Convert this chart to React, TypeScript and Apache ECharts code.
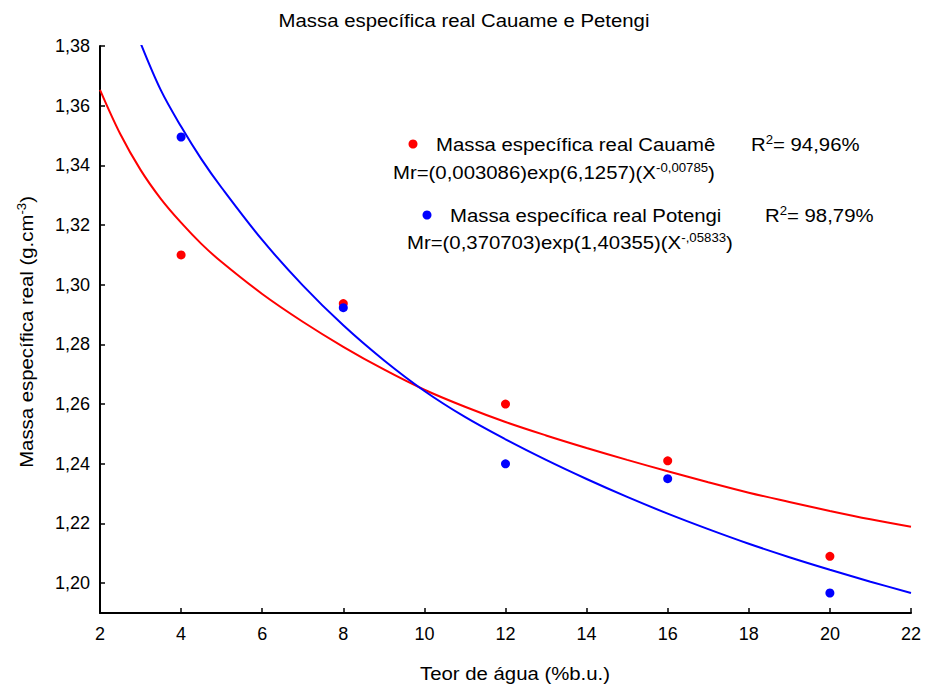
import React, { useEffect, useRef } from "react";
import * as echarts from "echarts";

// ---- data ----
const xTicks = [2, 4, 6, 8, 10, 12, 14, 16, 18, 20, 22];
const yTicks = [1.2, 1.22, 1.24, 1.26, 1.28, 1.3, 1.32, 1.34, 1.36, 1.38];

const pointX = [4, 8, 12, 16, 20];
const cauamePoints = [1.31, 1.2937, 1.26, 1.241, 1.209];
const potengiPoints = [1.3495, 1.2923, 1.24, 1.235, 1.1967];

const cauameCurveX = [2, 2.5, 3, 3.5, 4, 4.5, 5, 6, 7, 8, 9, 10, 11, 12, 13, 14, 15, 16, 17, 18, 19, 20, 21, 22];
const cauameCurve = [
  1.3653, 1.3505, 1.3385, 1.3288, 1.3208, 1.3137, 1.3076, 1.2969, 1.2876, 1.2792, 1.2716, 1.2648,
  1.2591, 1.254, 1.2495, 1.2453, 1.2413, 1.2375, 1.2338, 1.2303, 1.2272, 1.2242, 1.2214, 1.2189,
];

const potengiCurveX = [3, 3.5, 4, 4.5, 5, 6, 7, 8, 9, 10, 11, 12, 13, 14, 15, 16, 17, 18, 19, 20, 21, 22];
const potengiCurve = [
  1.381, 1.3652, 1.353, 1.3421, 1.3325, 1.315, 1.2998, 1.2864, 1.2747, 1.2644, 1.2557, 1.2482,
  1.2413, 1.2349, 1.2289, 1.2233, 1.2181, 1.2132, 1.2087, 1.2045, 1.2005, 1.1967,
];

const titleText = "Massa específica real Cauame e Petengi";
const xName = "Teor de água (%b.u.)";
const yName = "Massa específica real (g.cm{s|-3})";
const legend1 = "Massa específica real Cauamê";
const r2One = "R{s|2}= 94,96%";
const eq1 = "Mr=(0,003086)exp(6,1257)(X{s|-0,00785})";
const legend2 = "Massa específica real Potengi";
const r2Two = "R{s|2}= 98,79%";
const eq2 = "Mr=(0,370703)exp(1,40355)(X{s|-,05833})";

const RED = "#ff0000";
const BLUE = "#0000ff";
const FONT = "Liberation Sans, Arial, sans-serif";
const FS = 18.5;
const SX = 1.1;

const zip = (xs: number[], ys: number[]) => xs.map((x, i) => [x, ys[i]]);
const fmt = (v: number) => v.toFixed(2).replace(".", ",");

function txt(text: string, x: number, y: number, align: string, rotation = 0) {
  return {
    type: "text",
    x,
    y,
    rotation,
    scaleX: SX,
    silent: true,
    style: {
      text,
      fill: "#000",
      fontSize: FS,
      fontFamily: FONT,
      textAlign: align,
      textVerticalAlign: "middle",
      rich: {
        s: { fontSize: 12, fontFamily: FONT, verticalAlign: "top", fill: "#000" },
      },
    },
  };
}

export default function App() {
  const ref = useRef<HTMLDivElement>(null);
  useEffect(() => {
    if (!ref.current) return;
    const chart = echarts.init(ref.current, null, { renderer: "svg" });
    chart.setOption({
      animation: false,
      backgroundColor: "#fff",
      grid: { left: 100, right: 15, top: 46, bottom: 73 },
      xAxis: {
        type: "value",
        min: 2,
        max: 22,
        interval: 2,
        axisLine: { show: true, lineStyle: { color: "#000", width: 2 } },
        axisTick: { show: true, inside: true, length: 5, lineStyle: { color: "#000", width: 1.5 }, customValues: xTicks },
        axisLabel: { color: "#000", fontSize: 18, fontFamily: FONT, margin: 12, customValues: xTicks },
        splitLine: { show: false },
      },
      yAxis: {
        type: "value",
        min: 1.19,
        max: 1.38,
        axisLine: { show: true, lineStyle: { color: "#000", width: 2 } },
        axisTick: { show: true, inside: true, length: 5, lineStyle: { color: "#000", width: 1.5 }, customValues: yTicks },
        axisLabel: { color: "#000", fontSize: 18, fontFamily: FONT, margin: 10, formatter: fmt, customValues: yTicks },
        splitLine: { show: false },
      },
      series: [
        {
          type: "line",
          data: zip(cauameCurveX, cauameCurve),
          smooth: 0.35,
          showSymbol: false,
          lineStyle: { color: RED, width: 2 },
          clip: true,
          z: 2,
        },
        {
          type: "line",
          data: zip(potengiCurveX, potengiCurve),
          smooth: 0.35,
          showSymbol: false,
          lineStyle: { color: BLUE, width: 2 },
          clip: true,
          z: 2,
        },
        {
          type: "scatter",
          data: zip(pointX, cauamePoints),
          symbolSize: 9,
          itemStyle: { color: RED, opacity: 1 },
          z: 3,
        },
        {
          type: "scatter",
          data: zip(pointX, potengiPoints),
          symbolSize: 9,
          itemStyle: { color: BLUE, opacity: 1 },
          z: 3,
        },
      ],
      graphic: [
        txt(titleText, 464, 20, "center"),
        { type: "circle", shape: { cx: 413, cy: 144, r: 4.5 }, style: { fill: RED }, silent: true },
        txt(legend1, 436, 144, "left"),
        txt(r2One, 751, 144, "left"),
        txt(eq1, 393, 172, "left"),
        { type: "circle", shape: { cx: 427, cy: 215, r: 4.5 }, style: { fill: BLUE }, silent: true },
        txt(legend2, 450, 215, "left"),
        txt(r2Two, 765, 215, "left"),
        txt(eq2, 407, 242, "left"),
        txt(xName, 515, 673, "center"),
        txt(yName, 26, 332, "center", Math.PI / 2),
      ],
    });
    return () => chart.dispose();
  }, []);
  return (
    <div
      ref={ref}
      style={{ position: "absolute", left: 0, top: 0, width: 926, height: 686 }}
    />
  );
}
